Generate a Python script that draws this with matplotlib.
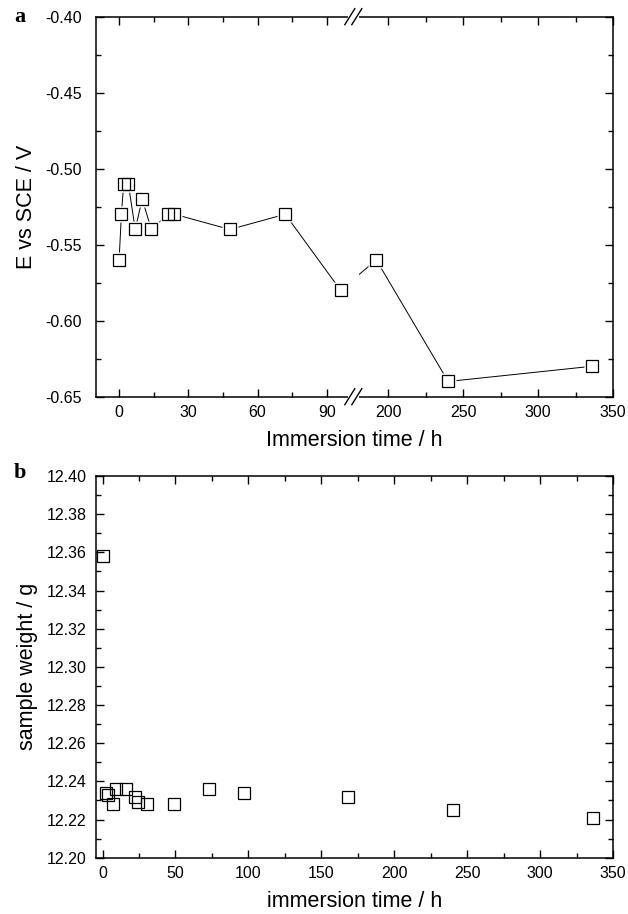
import matplotlib
matplotlib.use("Agg")
import matplotlib.pyplot as plt
import numpy as np

# panel a: open circuit potential vs immersion time
time_a = [0, 1, 2, 4, 7, 10, 14, 21, 24, 48, 72, 96, 192, 240, 336]
pot_a = [-0.56, -0.53, -0.51, -0.51, -0.54, -0.52, -0.54, -0.53, -0.53,
         -0.54, -0.53, -0.58, -0.56, -0.64, -0.63]

# panel b: sample weight vs immersion time
time_b = [0, 2.5, 4, 7, 9.5, 16, 22.5, 24, 30.5, 49, 73, 97, 168, 240, 336]
weight_b = [12.358, 12.234, 12.233, 12.228, 12.236, 12.236, 12.232, 12.229,
            12.228, 12.228, 12.236, 12.234, 12.232, 12.225, 12.221]

xticks_a = [0, 30, 60, 90, 200, 250, 300, 350]
xminor_a = [15, 45, 75, 225, 275, 325]

# broken x axis of panel a
A0, A1 = -10.0, 101.5
B0, B1 = 176.7, 350.0
KL, KR, EPS = 1.54, 1.0, 1e-4


def fwd(x):
    x = np.asarray(x, dtype=float)
    y1 = A1 * KL
    return np.where(x <= A1, x * KL,
                    np.where(x >= B0, y1 + (B0 - A1) * EPS + (x - B0) * KR,
                             y1 + (x - A1) * EPS))


def inv(y):
    y = np.asarray(y, dtype=float)
    y1 = A1 * KL
    y2 = y1 + (B0 - A1) * EPS
    return np.where(y <= y1, y / KL,
                    np.where(y >= y2, B0 + (y - y2) / KR, A1 + (y - y1) / EPS))


plt.rcParams["font.family"] = ["Liberation Sans", "DejaVu Sans"]
plt.rcParams["xtick.direction"] = "in"
plt.rcParams["ytick.direction"] = "in"

fig = plt.figure(figsize=(6.28, 9.14), dpi=100)
ax1 = fig.add_axes([0.1529, 0.566, 0.8232, 0.4158])
ax2 = fig.add_axes([0.1529, 0.0616, 0.8232, 0.4176])

for ax in (ax1, ax2):
    for s in ax.spines.values():
        s.set_linewidth(1.1)
    ax.tick_params(which="both", top=True, right=True, labelsize=11.5, width=1.0)
    ax.tick_params(which="major", length=6)
    ax.tick_params(which="minor", length=3.5)

# ---- panel a
ax1.set_xscale("function", functions=(fwd, inv))
ax1.plot(time_a, pot_a, color="black", lw=0.7, zorder=2)
ax1.plot(time_a, pot_a, ls="none", marker="s", ms=11.5, mfc="white", mec="none", zorder=3)
ax1.plot(time_a, pot_a, ls="none", marker="s", ms=8, mfc="none", mec="black", mew=0.9, zorder=4)
ax1.set_xlim(A0, B1)
ax1.set_ylim(-0.65, -0.40)
ax1.set_xticks(xticks_a)
ax1.set_xticks(xminor_a, minor=True)
ax1.set_xticklabels([str(v) for v in xticks_a])
ax1.set_yticks(np.arange(-0.65, -0.399, 0.05))
ax1.set_yticks(np.arange(-0.625, -0.40, 0.05), minor=True)
ax1.yaxis.set_major_formatter(matplotlib.ticker.FormatStrFormatter("%.2f"))
ax1.tick_params(axis="x", pad=6)
ax1.tick_params(axis="y", pad=10)
ax1.set_xlabel("Immersion time / h", fontsize=15.5, labelpad=7)
ax1.set_ylabel("E vs SCE / V", fontsize=15.5, labelpad=6)

# gap at the break and the // marks
xb = (A1 + B0) / 2
ax1.axvline(xb, ymin=-0.01, ymax=1.01, color="white", lw=8, zorder=2.6, clip_on=False)
xf = (fwd(xb) - fwd(A0)) / (fwd(B1) - fwd(A0))
dx, dy = 5 / 517, 8 / 380
for yf in (0, 1):
    for off in (-3.5 / 517, 3.5 / 517):
        ax1.plot([xf + off - dx, xf + off + dx], [yf - dy, yf + dy],
                 transform=ax1.transAxes, color="black", lw=1.0,
                 clip_on=False, zorder=5)

# ---- panel b
ax2.plot(time_b, weight_b, ls="none", marker="s", ms=8, mfc="none", mec="black", mew=0.9)
ax2.set_xlim(-4.5, 350)
ax2.set_ylim(12.20, 12.40)
ax2.set_xticks(np.arange(0, 351, 50))
ax2.set_xticks(np.arange(25, 350, 50), minor=True)
ax2.set_yticks(np.arange(12.20, 12.401, 0.02))
ax2.set_yticks(np.arange(12.21, 12.40, 0.02), minor=True)
ax2.yaxis.set_major_formatter(matplotlib.ticker.FormatStrFormatter("%.2f"))
ax2.tick_params(axis="x", pad=6)
ax2.tick_params(axis="y", pad=7)
ax2.set_xlabel("immersion time / h", fontsize=15.5, labelpad=7)
ax2.set_ylabel("sample weight / g", fontsize=15.5, labelpad=6)

fig.text(14 / 628, 1 - 17 / 914, "a", family="Liberation Serif", weight="bold",
         fontsize=16, ha="left", va="center")
fig.text(14 / 628, 1 - 473 / 914, "b", family="Liberation Serif", weight="bold",
         fontsize=16, ha="left", va="center")

fig.savefig("out.png", dpi=100)
